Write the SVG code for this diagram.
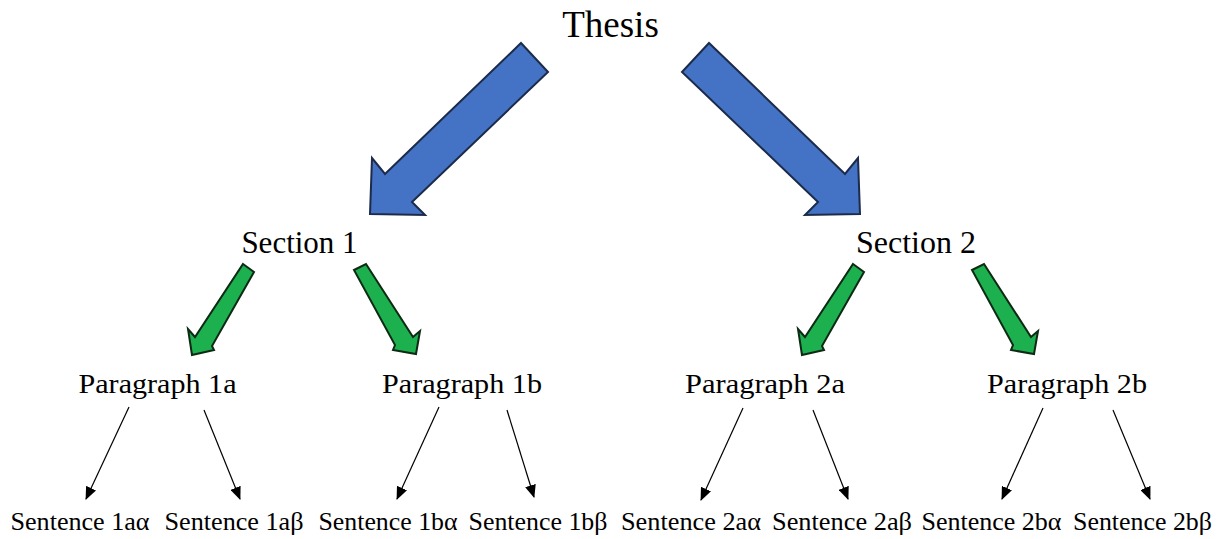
<svg xmlns="http://www.w3.org/2000/svg" width="1222" height="539" viewBox="0 0 1222 539">
<defs>
<marker id="ah" viewBox="0 0 13 11" refX="12" refY="5.5" markerWidth="13" markerHeight="11" markerUnits="userSpaceOnUse" orient="auto">
<path d="M0,0 L13,5.5 L0,11 Z" fill="#000"/>
</marker>
</defs>
<style>
.t{font-family:"Liberation Serif","Times New Roman",serif;fill:#000;text-anchor:middle}
.p{font-size:28px}
.s{font-size:25px}
.blue{fill:#4472C4;stroke:#1c2b4a;stroke-width:2;stroke-linejoin:miter}
.green{fill:#1DB04F;stroke:#0d2a14;stroke-width:2;stroke-linejoin:miter}
.thin{stroke:#000;stroke-width:1.2;fill:none;marker-end:url(#ah)}
</style>
<rect width="1222" height="539" fill="#fff"/>
<g id="thesis"><text class="t" x="610.5" y="37" font-size="37">Thesis</text></g>
<g id="section1"><text class="t" x="299.5" y="253" font-size="31">Section 1</text></g>
<g id="section2"><text class="t" x="916" y="253" font-size="32">Section 2</text></g>
<g id="para1a"><text class="t p" x="157.5" y="393" textLength="158" lengthAdjust="spacingAndGlyphs">Paragraph 1a</text></g>
<g id="para1b"><text class="t p" x="462" y="393" textLength="160" lengthAdjust="spacingAndGlyphs">Paragraph 1b</text></g>
<g id="para2a"><text class="t p" x="765" y="393" textLength="160" lengthAdjust="spacingAndGlyphs">Paragraph 2a</text></g>
<g id="para2b"><text class="t p" x="1067" y="393" textLength="160" lengthAdjust="spacingAndGlyphs">Paragraph 2b</text></g>
<g id="s1aa"><text class="t s" x="80" y="530" textLength="139" lengthAdjust="spacingAndGlyphs">Sentence 1aα</text></g>
<g id="s1ab"><text class="t s" x="234" y="530" textLength="139" lengthAdjust="spacingAndGlyphs">Sentence 1aβ</text></g>
<g id="s1ba"><text class="t s" x="388" y="530" textLength="139" lengthAdjust="spacingAndGlyphs">Sentence 1bα</text></g>
<g id="s1bb"><text class="t s" x="538" y="530" textLength="139" lengthAdjust="spacingAndGlyphs">Sentence 1bβ</text></g>
<g id="s2aa"><text class="t s" x="691" y="530" textLength="140" lengthAdjust="spacingAndGlyphs">Sentence 2aα</text></g>
<g id="s2ab"><text class="t s" x="842" y="530" textLength="140" lengthAdjust="spacingAndGlyphs">Sentence 2aβ</text></g>
<g id="s2ba"><text class="t s" x="991.5" y="530" textLength="140" lengthAdjust="spacingAndGlyphs">Sentence 2bα</text></g>
<g id="s2bb"><text class="t s" x="1142.5" y="530" textLength="139" lengthAdjust="spacingAndGlyphs">Sentence 2bβ</text></g>
<g id="connectors">
<polygon class="blue" points="521,43 548,72 412,202 425,215 370,214 372,158 385,174"/>
<polygon class="blue" points="709,43 682,72 818,202 805,215 860,214 858,158 845,174"/>
<polygon class="green" points="243,264 254,272 212,346 214,350 192,355 188,329 195,337"/>
<polygon class="green" points="354,270 366,264 413,337 420,331 416,354 393,350 395,345"/>
<polygon class="green" points="853,264 864,272 822,346 824,350 802,355 798,329 805,337"/>
<polygon class="green" points="972,270 984,264 1031,337 1038,331 1034,354 1011,350 1013,345"/>
<line class="thin" x1="129" y1="407" x2="86" y2="499"/>
<line class="thin" x1="204" y1="410" x2="240" y2="499"/>
<line class="thin" x1="439" y1="407" x2="397" y2="499"/>
<line class="thin" x1="507" y1="410" x2="534" y2="497"/>
<line class="thin" x1="743" y1="408" x2="701" y2="500"/>
<line class="thin" x1="813" y1="410" x2="848" y2="499"/>
<line class="thin" x1="1043" y1="408" x2="1002" y2="499"/>
<line class="thin" x1="1113" y1="410" x2="1150" y2="499"/>
</g>
</svg>
